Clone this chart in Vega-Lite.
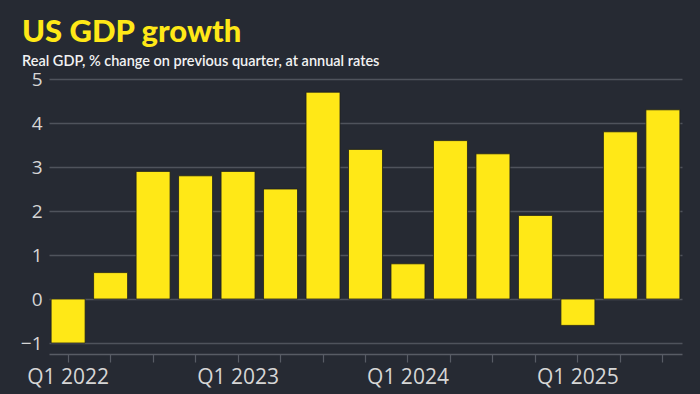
{
  "$schema": "https://vega.github.io/schema/vega-lite/v6.json",
  "width": 633,
  "height": 275,
  "autosize": {"type": "none"},
  "padding": {"left": 49, "top": 79, "right": 18, "bottom": 40},
  "background": "#262a33",
  "title": {
    "text": "US GDP growth",
    "subtitle": "Real GDP, % change on previous quarter, at annual rates",
    "anchor": "start",
    "frame": "group",
    "dx": -27,
    "offset": 1,
    "font": "Lato",
    "fontSize": 31,
    "fontWeight": 900,
    "color": "#ffe817",
    "subtitleFont": "Lato",
    "subtitleFontSize": 14.5,
    "subtitleFontWeight": 600,
    "subtitleColor": "#f2f2f2",
    "subtitlePadding": 6
  },
  "config": {
    "view": {"stroke": null},
    "axis": {"labelFont": "Open Sans", "labelColor": "#d6d6d6"}
  },
  "data": {
    "values": [
      {"q": "Q1 2022", "v": -1.0},
      {"q": "Q2 2022", "v": 0.6},
      {"q": "Q3 2022", "v": 2.9},
      {"q": "Q4 2022", "v": 2.8},
      {"q": "Q1 2023", "v": 2.9},
      {"q": "Q2 2023", "v": 2.5},
      {"q": "Q3 2023", "v": 4.7},
      {"q": "Q4 2023", "v": 3.4},
      {"q": "Q1 2024", "v": 0.8},
      {"q": "Q2 2024", "v": 3.6},
      {"q": "Q3 2024", "v": 3.3},
      {"q": "Q4 2024", "v": 1.9},
      {"q": "Q1 2025", "v": -0.6},
      {"q": "Q2 2025", "v": 3.8},
      {"q": "Q3 2025", "v": 4.3}
    ]
  },
  "mark": {"type": "bar", "color": "#ffe817", "stroke": "#1e1f1a", "strokeWidth": 0.8},
  "encoding": {
    "x": {
      "field": "q",
      "type": "ordinal",
      "sort": null,
      "title": null,
      "scale": {"paddingInner": 0.2, "paddingOuter": 0.05},
      "axis": {
        "labelAngle": 0,
        "labelExpr": "indexof(datum.label, 'Q1') == 0 ? datum.label : ''",
        "labelFontSize": 21,
        "labelPadding": 4,
        "domainColor": "#585c65",
        "domainWidth": 1.5,
        "tickColor": "#585c65",
        "tickWidth": 1.2,
        "tickSize": 8,
        "grid": false
      }
    },
    "y": {
      "field": "v",
      "type": "quantitative",
      "title": null,
      "scale": {"domain": [-1.25, 5], "nice": false, "zero": false},
      "axis": {
        "values": [-1, 0, 1, 2, 3, 4, 5],
        "labelFontSize": 19,
        "labelPadding": 7,
        "domain": false,
        "ticks": false,
        "gridColor": "#4f535c",
        "gridWidth": 1.5
      }
    }
  }
}
